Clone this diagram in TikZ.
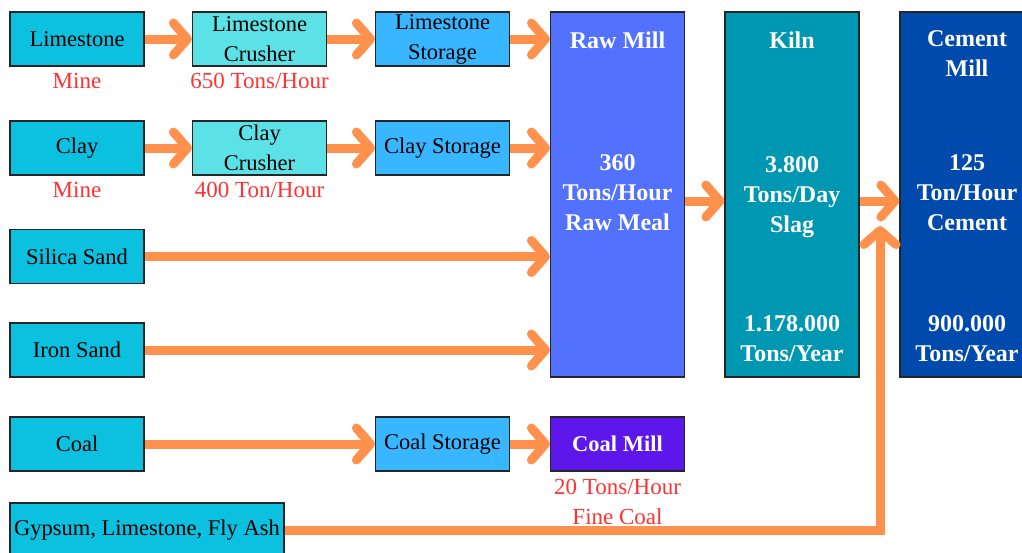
\documentclass[tikz,border=0pt]{standalone}
\usepackage{fontspec}
\setmainfont{Liberation Serif}
\usetikzlibrary{arrows.meta}
\definecolor{cSrc}{HTML}{0CC0DF}
\definecolor{cCrush}{HTML}{5CE1E6}
\definecolor{cStore}{HTML}{38B6FF}
\definecolor{cRaw}{HTML}{5271FF}
\definecolor{cKiln}{HTML}{0097B2}
\definecolor{cCem}{HTML}{004AAD}
\definecolor{cCoalM}{HTML}{5E17EB}
\definecolor{cArr}{HTML}{FF914D}
\definecolor{cRed}{HTML}{FF3131}
\tikzset{
  box/.style={draw=black!85, line width=1.2pt, minimum width=134pt, minimum height=54pt, inner sep=0pt, align=center, font=\fontsize{22.5}{30}\selectfont},
  tall/.style={draw=black!85, line width=1.2pt, minimum width=134pt, minimum height=365pt, inner sep=0pt},
  wt/.style={text=white, font=\bfseries\fontsize{24}{30}\selectfont, align=center},
  red/.style={text=cRed, font=\fontsize{23}{30}\selectfont, align=center},
  arr/.style={draw=cArr, line width=9pt, -{Straight Barb[round, length=14pt, width=32pt]}},
}
\begin{document}
\begin{tikzpicture}[x=1pt,y=-1pt]
\useasboundingbox (0,0) rectangle (1022,552);
\begin{scope}
\clip (0,0) rectangle (1022,552);
% row 1
\node[box, fill=cSrc] (lime) at (77,39) {Limestone};
\node[box, fill=cCrush] (limec) at (259.5,39) {Limestone\\Crusher};
\node[box, fill=cStore] (limes) at (442.5,39) {Limestone\\Storage};
% row 2
\node[box, fill=cSrc] (clay) at (77,148) {Clay};
\node[box, fill=cCrush] (clayc) at (259.5,148) {Clay\\Crusher};
\node[box, fill=cStore] (clays) at (442.5,148) {Clay Storage};
% rows 3-4
\node[box, fill=cSrc] (sil) at (77,256.5) {Silica Sand};
\node[box, fill=cSrc] (iron) at (77,350) {Iron Sand};
% coal
\node[box, fill=cSrc] (coal) at (77,444) {Coal};
\node[box, fill=cStore] (coals) at (442.5,444) {Coal Storage};
\node[box, fill=cCoalM, text=white, font=\bfseries\fontsize{22.5}{30}\selectfont] (coalm) at (617.5,444) {Coal Mill};
% gypsum
\node[box, fill=cSrc, minimum width=274pt] (gyp) at (147,530) {Gypsum, Limestone, Fly Ash};
% tall boxes
\node[tall, fill=cRaw] (raw) at (617.5,194.5) {};
\node[tall, fill=cKiln] (kiln) at (792,194.5) {};
\node[tall, fill=cCem] (cem) at (967,194.5) {};
\end{scope}
% tall box texts
\node[wt] (rawt) at (617.5,40) {Raw Mill};
\node[wt] (rawv) at (617.5,193) {360\\Tons/Hour\\Raw Meal};
\node[wt] (kilnt) at (792,40) {Kiln};
\node[wt] (kilnv) at (792,197) {3.800\\Tons/Day\\Slag};
\node[wt] (kilny) at (792,339) {1.178.000\\Tons/Year};
\node[wt] (cemt) at (967,54) {Cement\\Mill};
\node[wt] (cemv) at (967,193) {125\\Ton/Hour\\Cement};
\node[wt] (cemy) at (967,339) {900.000\\Tons/Year};
% red labels
\node[red] (m1) at (77,81) {Mine};
\node[red] (r1) at (259.5,81) {650 Tons/Hour};
\node[red] (m2) at (77,190) {Mine};
\node[red] (r2) at (259.5,190) {400 Ton/Hour};
\node[red] (r3) at (617.5,502) {20 Tons/Hour\\Fine Coal};
% arrows
\draw[arr] (lime) -- (limec);
\draw[arr] (limec) -- (limes);
\draw[arr] (limes.east) -- (limes.east -| raw.west);
\draw[arr] (clay) -- (clayc);
\draw[arr] (clayc) -- (clays);
\draw[arr] (clays.east) -- (clays.east -| raw.west);
\draw[arr] (sil.east) -- (sil.east -| raw.west);
\draw[arr] (iron.east) -- (iron.east -| raw.west);
\draw[arr] (raw.east |- 0,201) -- (kiln.west |- 0,201);
\draw[arr] (kiln.east |- 0,201) -- (cem.west |- 0,201);
\draw[arr] (coal) -- (coals);
\draw[arr] (coals) -- (coalm);
\coordinate (gtip) at (880,226);
\draw[arr] (gyp.east) -| (gtip);
\end{tikzpicture}
\end{document}
